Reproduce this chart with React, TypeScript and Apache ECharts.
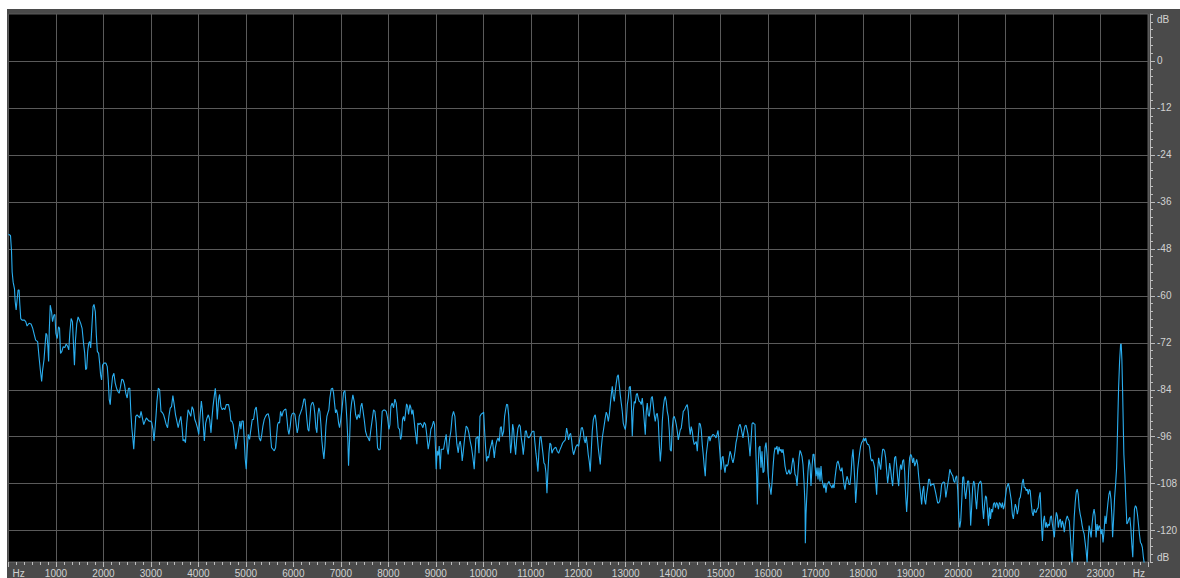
import React, { useEffect, useRef } from "react";
import * as echarts from "echarts";

// Frequency axis (Hz) and level axis (dB)
const hzMin = 0;
const hzMax = 24000;
const hzStep = 1000;
const dbMin = -128;
const dbMax = 12;
const dbGrid = [0, -12, -24, -36, -48, -60, -72, -84, -96, -108, -120];

// Spectrum, [frequency Hz, level dB]
const seg1: [number, number][] = [
  [0,-44.2],[14,-44.4],[42,-44.6],[63,-48.4],[77,-53.9],[98,-56.5],[126,-58.2],[140,-61.4],[161,-63.6],[181,-61],[202,-58.5],[223,-58.5],[237,-61.9],[258,-65.8],[286,-66.2],[335,-66.2],[363,-66.6],[391,-67.7],[433,-67],[475,-67.2],[510,-68.3],[544,-70],[572,-71.3],[614,-71.7],[642,-75.5],[670,-78.9],[698,-81.9],[719,-78.9],[747,-76.4],[768,-73],[789,-69.6],[810,-70],[831,-73.3],[845,-76.8],[859,-68.7],[879,-62.4],[907,-64.1],[928,-66.6],[956,-64.9],[977,-64.8],[998,-69.6],[1026,-70.9],[1054,-67.9],[1075,-68.3],[1096,-74.7],[1124,-74.2],[1152,-73],[1187,-73.2],[1215,-72.3],[1242,-72.8],[1270,-73.8],[1291,-69.6],[1319,-65.8],[1347,-66.6],[1368,-72.3],[1389,-77.7],[1410,-71.4],[1438,-67.1],[1466,-65.4],[1494,-66.2],[1522,-67.1],[1550,-68.3],[1577,-71.7],[1605,-74.7],[1626,-78.9],[1647,-78.5],[1668,-74.2],[1689,-72.1],[1710,-71.7],[1731,-73.3],[1752,-68.7],[1780,-62.8],[1801,-62.2],[1829,-64.1],[1850,-70],[1871,-74.2],[1899,-74.7],[1920,-77.2],[1940,-80.2],[1961,-81.5],[1982,-77.7],[2010,-77.2],[2052,-77.2],[2080,-78.1],[2101,-81.5],[2122,-86.6],[2143,-87.8],[2164,-84],[2192,-80.6],[2220,-79.8],[2248,-82.3],[2275,-83.6],[2303,-84.4],[2331,-84.9],[2359,-83.2],[2387,-81.3],[2415,-81.5],[2443,-82.7],[2471,-84.9],[2499,-86.1],[2527,-83.6],[2555,-83.6],[2576,-89.5],[2597,-93.7],[2618,-96.3],[2638,-99.2],[2659,-95],[2680,-90.8],[2708,-90.4],[2736,-90.8],[2764,-91.2],[2792,-89.5],[2820,-91.2],[2848,-92.9],[2876,-92],[2904,-91.2],[2932,-91.6],[2960,-92],[2987,-92],[3015,-92.3],[3043,-94.1],[3064,-97.1],[3085,-94.1],[3106,-90.8],[3127,-86.9],[3155,-83.6],[3183,-84],[3211,-89.5],[3239,-89.8],[3267,-90.4],[3295,-91.6],[3322,-92.9],[3350,-93.7],[3378,-90.8],[3406,-88.7],[3434,-88.3],[3462,-85.5],[3490,-87.8],[3518,-90.4],[3546,-92],[3574,-93.7],[3602,-92],[3630,-90.8],[3658,-94.1],[3678,-97.1],[3699,-96.7],[3727,-97.5],[3755,-92.5],[3783,-89.1],[3811,-89.9],[3839,-90.8],[3867,-88.3],[3895,-89.1],[3923,-91.6],[3951,-92.5],[3979,-93.7],[4007,-95.4],[4034,-90.8],[4062,-86.9],[4083,-89.1],[4104,-93.3],[4125,-97.1],[4153,-92.5],[4181,-91.2],[4209,-90.4],[4237,-91.6],[4265,-95],[4286,-91.2],[4307,-88.3],[4335,-85.5],[4356,-83.6],[4376,-86.5],[4397,-91.6],[4425,-86.5],[4446,-85.2],[4474,-88.3],[4502,-89.1],[4530,-88.7],[4558,-89.1],[4586,-87.8],[4635,-87.8],[4663,-89.5],[4684,-92],[4705,-92],[4732,-92.9],[4760,-95.9],[4788,-99.2],[4816,-96.7],[4844,-94.6]
];

const seg2: [number, number][] = [
  [4874,-92],[4895,-94.1],[4916,-92],[4944,-92],[4965,-96.7],[4986,-101.7],[5007,-104.3],[5028,-99.2],[5049,-95.4],[5077,-96.7],[5105,-94.1],[5133,-91.6],[5161,-91.6],[5190,-89.1],[5218,-88.4],[5239,-90.8],[5260,-93.7],[5281,-96.3],[5309,-97.1],[5330,-95.8],[5358,-93.3],[5386,-91.6],[5414,-90.8],[5442,-90.3],[5470,-90.1],[5498,-91.6],[5519,-95.8],[5541,-98.8],[5569,-99.2],[5597,-99.6],[5625,-98.8],[5646,-95.8],[5667,-92.9],[5688,-92.3],[5709,-92.5],[5730,-89.5],[5758,-90.8],[5786,-89.5],[5814,-89.1],[5842,-88.9],[5863,-91.2],[5885,-94.1],[5906,-95.4],[5934,-93.3],[5955,-90.8],[5976,-90.1],[6004,-89.9],[6032,-90.3],[6060,-92.9],[6081,-95],[6102,-93.7],[6123,-90.8],[6151,-89.9],[6179,-88.9],[6200,-87.8],[6221,-86.4],[6243,-86.4],[6264,-88.6],[6285,-91.6],[6306,-94.1],[6327,-94.6],[6348,-91.6],[6369,-88.1],[6390,-87.4],[6411,-87.2],[6432,-88.1],[6453,-90.3],[6474,-93.7],[6495,-95],[6516,-90.3],[6537,-88.6],[6558,-89.5],[6580,-92.9],[6601,-97.1],[6622,-99.6],[6643,-101.7],[6664,-98.4],[6685,-93.3],[6706,-90.8],[6727,-89.9],[6748,-89.1],[6769,-86.1],[6797,-83.8],[6825,-83.6],[6846,-84.8],[6867,-87.4],[6888,-89.9],[6909,-89.1],[6931,-90.3],[6952,-92.5],[6973,-93.7],[6994,-92],[7015,-89.9],[7036,-87.4],[7057,-84.7],[7085,-84.2],[7106,-87.4],[7127,-91.6],[7148,-97.1],[7162,-103.4],[7183,-97.1],[7204,-89.9],[7225,-87.4],[7253,-85.3],[7282,-87],[7310,-90.3],[7338,-91.6],[7366,-90.3],[7394,-91.2],[7422,-88.2],[7443,-87.4],[7464,-89.1],[7492,-91.6],[7520,-94.6],[7548,-95.8],[7576,-96.3],[7604,-97.1],[7633,-94.1],[7661,-91.6],[7689,-89.1],[7717,-89.5],[7745,-92.5],[7773,-98.8],[7801,-99.4],[7829,-99.2],[7850,-94.1],[7871,-89.5],[7899,-89.2],[7927,-89.2],[7955,-89.5],[7984,-91.2],[8012,-94.1],[8033,-92.9],[8054,-88.2],[8082,-87.4],[8110,-88.6],[8138,-86.4],[8166,-87.4],[8187,-90.3],[8208,-93.7],[8236,-94.1],[8257,-96.7],[8278,-95.8],[8299,-91.6],[8320,-90.8],[8342,-92],[8363,-89.9],[8384,-87.6],[8405,-88.2],[8426,-90.3],[8454,-87.8],[8475,-88.6],[8496,-90.3],[8517,-89.1],[8538,-91.2],[8559,-93.7],[8580,-95.8],[8601,-97.9],[8622,-92.5],[8643,-92.9],[8671,-92.5],[8700,-92.9],[8728,-93.7],[8756,-92.3],[8784,-92.9],[8812,-95.8],[8840,-99.2],[8868,-97.1],[8896,-94.1],[8924,-93.3],[8952,-92],[8973,-92.9],[8994,-99.2],[9008,-104.3],[9029,-99.6],[9051,-100.8],[9072,-98.4],[9093,-104.3],[9114,-99.2],[9142,-99.2],[9163,-99.2],[9191,-97.1],[9219,-95.4],[9240,-99.2],[9261,-100.5],[9289,-96.7],[9317,-94.6],[9345,-90.8],[9373,-89.5],[9402,-90.8],[9423,-94.6],[9444,-97.9],[9472,-100.1],[9493,-97.9],[9514,-97.1],[9535,-98.8],[9556,-102.2],[9584,-99.2],[9612,-95.8],[9640,-93.3],[9668,-93.7],[9696,-95],[9724,-97.1],[9753,-98.8],[9781,-101.3],[9809,-104.3]
];

const seg3: [number, number][] = [
  [9825,-100.6],[9846,-96.3],[9867,-96.3],[9888,-95.9],[9909,-100.2],[9930,-90.8],[9958,-90.2],[9986,-90],[10007,-89.7],[10028,-94.6],[10049,-98.9],[10070,-102.3],[10091,-101],[10112,-101.4],[10140,-99.3],[10168,-98],[10190,-96.8],[10211,-98.9],[10232,-101.4],[10253,-98.9],[10281,-97.2],[10309,-96.3],[10337,-97.2],[10358,-93.8],[10379,-93.4],[10400,-95.9],[10428,-94.6],[10449,-90.8],[10470,-89.1],[10491,-87.7],[10512,-87.8],[10534,-90.4],[10555,-95.5],[10576,-100.2],[10597,-97.6],[10618,-92.8],[10639,-94.2],[10660,-98],[10681,-100.6],[10702,-96.8],[10730,-93.8],[10758,-92.9],[10779,-93.4],[10800,-96.3],[10821,-98],[10842,-100.6],[10863,-98],[10885,-94.6],[10906,-94.5],[10927,-95.9],[10955,-96.3],[10983,-95.9],[11011,-95.1],[11039,-94.6],[11067,-94.6],[11088,-97.6],[11109,-100.2],[11130,-102.3],[11151,-104.9],[11172,-99.7],[11193,-96.2],[11214,-95.9],[11235,-98],[11256,-100.2],[11278,-102.7],[11299,-103.1],[11320,-105.3],[11341,-110.4],[11362,-104.9],[11383,-100.2],[11404,-97.6],[11425,-98],[11446,-100.2],[11474,-99.3],[11502,-98.9],[11530,-98.7],[11558,-99.7],[11587,-100.2],[11615,-99.3],[11643,-98.5],[11671,-97.6],[11699,-97.2],[11727,-96.8],[11755,-93.8],[11776,-95.1],[11797,-96.8],[11818,-95.5],[11839,-95.1],[11860,-96.8],[11881,-99.3],[11902,-100.6],[11923,-99.7],[11952,-98.5],[11980,-98],[12008,-98.5],[12036,-96.3],[12064,-93.8],[12085,-93.6],[12106,-94.6],[12127,-96.8],[12148,-97.6],[12169,-95.9],[12190,-98],[12211,-100.6],[12232,-102.3],[12253,-104.9],[12274,-99.7],[12295,-94.6],[12317,-91.7],[12338,-90.8],[12359,-90.4],[12380,-92.5],[12401,-95.9],[12422,-98.9],[12443,-101],[12464,-103.1],[12485,-98.9],[12506,-96.3],[12527,-94.6],[12548,-92.9],[12569,-91.2],[12590,-89.7],[12611,-90.4],[12633,-92.1],[12654,-90.4],[12675,-87.8],[12696,-85.3],[12717,-83.1],[12738,-85.7],[12759,-87],[12780,-84.4],[12801,-82.3],[12822,-80.6],[12843,-80.2],[12864,-82.7],[12885,-85.3],[12906,-87.4],[12927,-89.5],[12948,-92.5],[12969,-93.4],[12991,-94.2],[13012,-92.1],[13033,-87.8],[13054,-86.1],[13075,-83.4],[13096,-83.1],[13117,-87],[13138,-95.9],[13159,-89.5],[13180,-87],[13201,-87.4],[13222,-85.3],[13243,-84.9],[13264,-86.1],[13285,-87],[13306,-87.1],[13327,-87.8],[13349,-86.1],[13370,-88.7],[13391,-92.1],[13412,-95.5],[13433,-89.5],[13454,-87.4],[13475,-90.4],[13496,-90.8],[13517,-88.7],[13538,-86.1],[13559,-85.7],[13580,-87.8],[13601,-90.4],[13622,-92.1],[13643,-90.4],[13664,-90],[13686,-92.1],[13707,-98],[13728,-102.3],[13749,-98.9],[13770,-92.1],[13791,-88.7],[13812,-86.6],[13833,-85.7],[13854,-87],[13875,-89.5],[13896,-90.8],[13917,-94.2],[13938,-99.3],[13959,-99.7],[13980,-93.8],[14001,-91.2],[14022,-90.8],[14044,-91.7],[14065,-92.9],[14086,-94.6],[14107,-96.8],[14128,-95.5],[14149,-94.2],[14170,-93.8],[14191,-91.7],[14212,-89.5],[14240,-89.1],[14268,-88.3],[14296,-87.8],[14317,-89.5],[14338,-93.4],[14359,-95.5],[14380,-93.4],[14402,-94.6],[14423,-96.8],[14444,-98],[14465,-97.6],[14486,-97.2],[14507,-99.7],[14528,-95.9],[14549,-92.5],[14570,-92.8],[14591,-94.2],[14612,-98],[14633,-100.6],[14654,-103.6],[14675,-106.1],[14696,-100.6],[14717,-98.5],[14739,-96.3],[14760,-95.9]
];

const seg4: [number, number][] = [
  [14775,-97.1],[14796,-96.1],[14817,-95.8],[14839,-95.4],[14860,-95.6],[14881,-95.8],[14902,-96.3],[14923,-95.4],[14944,-94.4],[14965,-97.1],[14986,-100.5],[15007,-104.4],[15028,-101.4],[15049,-101],[15070,-103.5],[15091,-105.2],[15112,-103.1],[15133,-103.5],[15154,-103.1],[15176,-101.4],[15197,-99.7],[15218,-100.5],[15239,-101.8],[15260,-102.7],[15281,-101.4],[15302,-99.7],[15323,-97.5],[15344,-96.3],[15365,-94.5],[15386,-93.3],[15407,-92.8],[15428,-93.7],[15449,-95],[15470,-96.3],[15491,-94.5],[15512,-93.3],[15534,-93],[15555,-94.1],[15576,-95.4],[15597,-98],[15618,-101],[15639,-97.1],[15660,-92.7],[15681,-92.4],[15702,-92.7],[15723,-92.8],[15737,-98.4],[15758,-106.1],[15772,-113.3],[15786,-104.8],[15807,-98.8],[15828,-98.4],[15849,-103.9],[15870,-99.7],[15892,-105.2],[15913,-104.8],[15934,-98.8],[15955,-97.5],[15976,-100.5],[15997,-105.2],[16018,-107.8],[16039,-109.1],[16060,-110.8],[16081,-107.8],[16102,-103.9],[16123,-100.5],[16144,-98.8],[16165,-99.2],[16186,-98.4],[16207,-100.5],[16229,-98.6],[16250,-99.7],[16271,-99.2],[16292,-100.1],[16313,-99.2],[16334,-101],[16355,-103.5],[16376,-104.8],[16397,-105.6],[16418,-105.2],[16439,-104.4],[16460,-105.6],[16481,-105.2],[16502,-103.1],[16523,-101.4],[16544,-102.7],[16565,-105.6],[16587,-106.1],[16608,-108.6],[16629,-104.8],[16650,-101.4],[16671,-99.5],[16692,-100.1],[16713,-101],[16734,-103.1],[16755,-107.4],[16776,-113.3],[16783,-123.2],[16797,-115.9],[16818,-109.9],[16839,-104.8],[16860,-101.8],[16881,-103.1],[16902,-108.6],[16923,-103.9],[16945,-100.5],[16966,-100.5],[16987,-103.5],[17008,-106.1],[17029,-103.9],[17050,-106.9],[17071,-103.9],[17092,-107.4],[17113,-103.5],[17134,-106.9],[17155,-108.2],[17176,-109.1],[17197,-107.8],[17218,-110.3],[17239,-108.2],[17260,-107.8],[17282,-107.4],[17303,-108.2],[17324,-108.6],[17345,-109.1],[17366,-108.2],[17387,-109.1],[17408,-106.5],[17429,-104.4],[17450,-102.7],[17471,-102.2],[17492,-103.1],[17513,-104.4],[17534,-104.8],[17555,-103.9],[17576,-106.1],[17597,-108.2],[17618,-109.5],[17640,-107.4],[17661,-106.1],[17682,-106.9],[17703,-108.2],[17724,-108.2],[17745,-105.6],[17766,-101.4],[17787,-99.2],[17808,-103.5],[17829,-108.2],[17843,-112.9],[17864,-109.1],[17885,-104.4],[17906,-102.2],[17927,-100.1],[17948,-98.4],[17969,-97.5],[17991,-97.1],[18012,-96.4],[18033,-97.1],[18054,-96.3],[18075,-97.5],[18096,-98],[18117,-98],[18138,-98.8],[18159,-101.4],[18180,-102.2],[18201,-101.8],[18222,-102.7],[18243,-103.9],[18264,-107.4],[18285,-110.8],[18306,-104.4],[18327,-101.4],[18349,-103.1],[18370,-104.4],[18391,-101.4],[18412,-99.2],[18433,-99.2],[18454,-99.7],[18475,-101.4],[18496,-104.8],[18517,-107.8],[18538,-105.6],[18559,-102.7],[18580,-104.4],[18601,-106.9],[18622,-108.6],[18643,-104.8],[18664,-101.4],[18686,-101],[18707,-103.5],[18728,-106.5],[18749,-108.6],[18770,-104.8],[18791,-103.1],[18812,-104.4],[18833,-102.2],[18854,-101.8],[18875,-104.8],[18896,-110.9],[18917,-115.2],[18938,-110.9],[18959,-104.8],[18980,-101.4],[19001,-100.5],[19022,-101],[19044,-102.7],[19065,-101.4],[19086,-103.5],[19107,-102.7],[19128,-101.8],[19149,-103.1],[19170,-106.1],[19191,-108.6],[19212,-110.8],[19233,-113.3],[19254,-109.9],[19275,-108.6],[19296,-112.1],[19317,-113.3],[19338,-110.8],[19359,-109.1],[19380,-106.9],[19401,-106.9],[19423,-108.6],[19444,-108.2],[19465,-108.2],[19486,-108],[19507,-109.1],[19528,-110.3],[19549,-111.6],[19570,-112.9],[19591,-112.9],[19612,-112.5],[19633,-110.8],[19654,-108.2],[19675,-107.8],[19696,-107.5],[19717,-107.8]
];

const seg5: [number, number][] = [
  [19742,-111.5],[19763,-109.8],[19784,-108.1],[19805,-106.4],[19826,-104.3],[19847,-105.1],[19868,-105.6],[19888,-106],[19909,-107.3],[19930,-107.7],[19951,-106.4],[19972,-106],[19993,-109.8],[20014,-116.6],[20035,-119.2],[20056,-117.5],[20077,-112.4],[20098,-106.4],[20118,-106.2],[20139,-109.8],[20160,-111.9],[20181,-109.4],[20202,-107.3],[20223,-107.3],[20244,-110.7],[20265,-118.7],[20286,-114.1],[20307,-109],[20328,-107.3],[20349,-108.1],[20369,-111.9],[20390,-114.5],[20411,-110.7],[20432,-108.1],[20453,-107.7],[20474,-107.3],[20495,-108.1],[20516,-114.1],[20537,-117],[20558,-113.2],[20579,-111.1],[20599,-111.5],[20620,-114.9],[20641,-118.7],[20662,-114.1],[20683,-117],[20704,-114.5],[20725,-115.3],[20746,-113.2],[20767,-112.8],[20788,-114.1],[20809,-112.8],[20829,-113.2],[20850,-114.5],[20871,-112.8],[20892,-113.2],[20913,-114.1],[20934,-112.8],[20955,-114.5],[20976,-113.6],[20997,-111.5],[21018,-109.4],[21039,-108.5],[21059,-107.9],[21080,-109],[21101,-110.7],[21122,-112.4],[21143,-115.8],[21164,-117],[21185,-114.9],[21206,-113.2],[21227,-114.1],[21248,-115.8],[21269,-114.5],[21289,-111.9],[21310,-111.5],[21331,-109.8],[21352,-107.7],[21373,-106.8],[21394,-109],[21415,-109],[21436,-109.8],[21457,-109.4],[21478,-110.7],[21499,-109.4],[21519,-109.8],[21540,-112.8],[21561,-115.3],[21582,-116.2],[21603,-114.5],[21624,-115.3],[21645,-115.3],[21666,-114.5],[21687,-114.1],[21708,-111.5],[21729,-110.2],[21749,-115.8],[21763,-120],[21777,-122.6],[21798,-117.5],[21819,-116.2],[21840,-119.2],[21861,-117.9],[21882,-119.2],[21903,-118.3],[21924,-118.7],[21945,-116.6],[21966,-116.2],[21986,-118.3],[22007,-120],[22028,-121.7],[22049,-117.5],[22070,-115.3],[22091,-116.2],[22112,-119.2],[22133,-117.5],[22154,-117],[22175,-119.2],[22196,-117.5],[22216,-118.3],[22237,-120.4],[22258,-118.3],[22279,-117],[22300,-116.2],[22321,-117],[22342,-117.5],[22363,-120.9],[22384,-125.1],[22405,-128.5],[22426,-122.6],[22446,-116.6],[22467,-112.8],[22488,-110.2],[22509,-109.4],[22530,-110.7],[22551,-114.1],[22572,-115.8],[22593,-117],[22614,-118.7],[22635,-120],[22656,-120.9],[22676,-123],[22697,-125.1],[22718,-128.1],[22739,-122.6],[22760,-118.7],[22781,-120],[22802,-121.7],[22823,-118.3],[22844,-115.8],[22865,-114.5],[22886,-116.2],[22906,-121.7],[22927,-118.3],[22948,-120],[22969,-118.7],[22990,-119.2],[23011,-120.9],[23032,-119.6],[23053,-123],[23074,-120.4],[23095,-116.2],[23116,-118.3],[23137,-115.3],[23157,-112.8],[23178,-110.7],[23199,-109.8],[23220,-111.9],[23241,-116.6],[23255,-121.7],[23276,-117],[23297,-111.5],[23318,-108.1],[23339,-103.9],[23360,-93.7],[23381,-83.5],[23402,-76.7],[23423,-72.4],[23436,-72.3],[23450,-76.2],[23464,-83.5],[23478,-92],[23492,-100.5],[23513,-105.6],[23534,-112.4],[23555,-118.3],[23576,-117.9],[23597,-117],[23617,-116.6],[23638,-119.2],[23659,-123.4],[23680,-126.8],[23694,-120.9],[23715,-114.5],[23736,-113.6],[23757,-114.1],[23778,-115.8],[23799,-118.3],[23820,-120.9],[23841,-123],[23862,-123.4],[23882,-124.3],[23903,-126.8],[23924,-128.5],[23950,-132]
];

const spectrum = [...seg1, ...seg2, ...seg3, ...seg4, ...seg5];

const PANEL = "#4a4a4a";
const GRIDLINE = "#5a5a5a";
const TICK = "#bdbdbd";
const TEXT = "#d2d2d2";
const LINE = "#2aaef0";
const FONT = "Liberation Sans, Arial, sans-serif";

export default function App() {
  const ref = useRef<HTMLDivElement>(null);

  useEffect(() => {
    if (!ref.current) return;
    const chart = echarts.init(ref.current, null, { renderer: "svg" });
    chart.setOption({
      animation: false,
      backgroundColor: PANEL,
      grid: {
        left: 1.5,
        top: 5,
        width: 1139.5,
        height: 549,
        show: true,
        backgroundColor: "#000000",
        borderColor: GRIDLINE,
        borderWidth: 1,
      },
      xAxis: {
        type: "value",
        min: hzMin,
        max: hzMax,
        interval: hzStep,
        axisLine: { show: true, onZero: false, lineStyle: { color: GRIDLINE, width: 1 } },
        axisTick: { show: true, length: 5, lineStyle: { color: TICK, width: 1 } },
        minorTick: { show: true, splitNumber: 6, length: 3, lineStyle: { color: TICK, width: 1 } },
        splitLine: { show: true, lineStyle: { color: GRIDLINE, width: 1, type: "solid" } },
        minorSplitLine: { show: false },
        axisLabel: {
          color: TEXT,
          fontSize: 10,
          fontFamily: FONT,
          margin: 6,
          alignMinLabel: "left",
          alignMaxLabel: "right",
          formatter: (v: number) =>
            v === hzMin ? "{hl|Hz}" : v === hzMax ? "{hr|Hz}" : String(v),
          rich: {
            hl: { padding: [0, 0, 0, 4], color: TEXT, fontSize: 10, fontFamily: FONT },
            hr: { padding: [0, 3, 0, 0], color: TEXT, fontSize: 10, fontFamily: FONT },
          },
        },
      },
      yAxis: [
        {
          type: "value",
          position: "right",
          offset: 2,
          min: dbMin,
          max: dbMax,
          interval: 2,
          axisLine: { show: true, onZero: false, lineStyle: { color: TICK, width: 1 } },
          axisTick: { show: true, length: 3, lineStyle: { color: TICK, width: 1 } },
          splitLine: { show: false },
          axisLabel: {
            color: TEXT,
            fontSize: 10,
            fontFamily: FONT,
            margin: 7,
            verticalAlignMinLabel: "bottom",
            verticalAlignMaxLabel: "top",
            formatter: (v: number) => {
              if (v === dbMax || v === dbMin) return "dB";
              return dbGrid.indexOf(v) >= 0 ? String(v) : "";
            },
          },
        },
        {
          type: "value",
          position: "right",
          offset: 2,
          min: dbMin,
          max: dbMax,
          axisLine: { show: false, onZero: false },
          axisTick: { show: true, length: 5, customValues: dbGrid, lineStyle: { color: TICK, width: 1 } },
          axisLabel: { show: false },
          splitLine: { show: false },
        },
      ],
      series: [
        {
          type: "line",
          data: spectrum,
          xAxisIndex: 0,
          yAxisIndex: 0,
          showSymbol: false,
          symbol: "none",
          z: 10,
          clip: true,
          lineStyle: { color: LINE, width: 1.1 },
          itemStyle: { color: LINE },
          markLine: {
            silent: true,
            animation: false,
            symbol: ["none", "none"],
            label: { show: false },
            lineStyle: { color: GRIDLINE, type: "solid", width: 1 },
            emphasis: { disabled: true },
            data: dbGrid.map((v) => ({ yAxis: v })),
          },
        },
      ],
    });
    return () => chart.dispose();
  }, []);

  return (
    <div
      ref={ref}
      style={{ position: "absolute", left: 7, top: 9, width: 1173, height: 569 }}
    />
  );
}
